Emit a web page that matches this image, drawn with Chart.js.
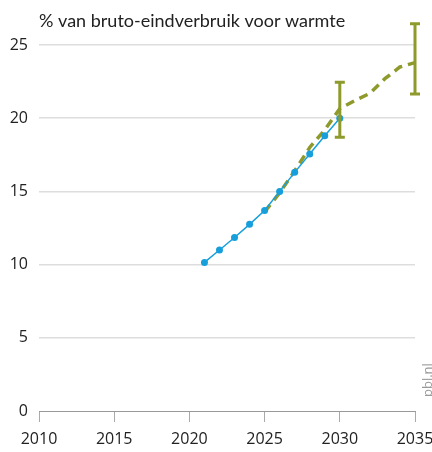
<!DOCTYPE html>
<html>
<head>
<meta charset="utf-8">
<script src="https://cdn.jsdelivr.net/npm/chart.js@4"></script>
<style>
	html, body { margin: 0; padding: 0; background: #fff; }
	#wrap { width: 432px; height: 452px; }
</style>
</head>
<body>
<div id="wrap"><canvas id="grWarmte"></canvas></div>
<script>
// gerealiseerd / raming
var jarenHist = [2021, 2022, 2023, 2024, 2025, 2026, 2027, 2028, 2029, 2030];
var waardenHist = [10.15, 11.0, 11.85, 12.75, 13.7, 15.0, 16.3, 17.55, 18.8, 20.0];

// projectie (gestippeld)
var jarenProj = [2025, 2026, 2027, 2028, 2029, 2030, 2031, 2032, 2033, 2034, 2035];
var waardenProj = [13.6, 14.9, 16.4, 18.0, 19.2, 20.65, 21.2, 21.7, 22.7, 23.5, 23.8];

// bandbreedte
var jarenBand = [2030, 2035];
var bandLaag = [18.7, 21.65];
var bandHoog = [22.45, 26.45];

var xTicks = [2010, 2015, 2020, 2025, 2030, 2035];
var yTicks = [0, 5, 10, 15, 20, 25];

var titel = '% van bruto-eindverbruik voor warmte';
var bron = 'pbl.nl';

var blauw = '#179fdc';
var groen = '#8e9a2b';
var fontNaam = "'Open Sans', 'Noto Sans', sans-serif";
var titelFont = "Lato, 'Open Sans', sans-serif";

function punten(xs, ys) {
	var arr = [];
	for (var i = 0; i < xs.length; i++) {
		arr.push({x: xs[i], y: ys[i]});
	}
	return arr;
}

var extraPlugin = {
	id: 'extra',
	afterDatasetsDraw: function(chart) {
		var ctx = chart.ctx;
		var sx = chart.scales.x, sy = chart.scales.y;
		ctx.save();
		ctx.strokeStyle = groen;
		ctx.lineWidth = 3;
		for (var i = 0; i < jarenBand.length; i++) {
			var px = sx.getPixelForValue(jarenBand[i]);
			var top = sy.getPixelForValue(bandHoog[i]);
			var bot = sy.getPixelForValue(bandLaag[i]);
			ctx.beginPath();
			ctx.moveTo(px, top); ctx.lineTo(px, bot);
			ctx.moveTo(px - 5, top); ctx.lineTo(px + 5, top);
			ctx.moveTo(px - 5, bot); ctx.lineTo(px + 5, bot);
			ctx.stroke();
		}
		ctx.restore();
	},
	afterDraw: function(chart) {
		var ctx = chart.ctx;
		ctx.save();
		ctx.fillStyle = '#222';
		ctx.font = '18px ' + titelFont;
		ctx.textAlign = 'left';
		ctx.textBaseline = 'alphabetic';
		ctx.fillText(titel, 39, 27);

		ctx.fillStyle = '#999';
		ctx.font = '13px ' + fontNaam;
		ctx.translate(432, 397);
		ctx.rotate(-Math.PI / 2);
		ctx.textAlign = 'left';
		ctx.fillText(bron, 0, 0);
		ctx.restore();
	}
};

var config = {
	type: 'line',
	data: {
		datasets: [{
			label: 'Gerealiseerd',
			data: punten(jarenHist, waardenHist),
			borderColor: blauw,
			backgroundColor: blauw,
			pointBackgroundColor: blauw,
			pointBorderWidth: 0,
			pointRadius: 3.5,
			borderWidth: 1.5,
			tension: 0,
			order: 0
		}, {
			label: 'Projectie',
			data: punten(jarenProj, waardenProj),
			borderColor: groen,
			borderWidth: 3.5,
			borderDash: [9, 6],
			pointRadius: 0,
			tension: 0,
			order: 1
		}]
	},
	options: {
		responsive: true,
		maintainAspectRatio: false,
		animation: false,
		clip: false,
		layout: {
			padding: {top: 45, right: 17, left: 0, bottom: 0}
		},
		plugins: {
			legend: {display: false},
			title: {display: false},
			tooltip: {enabled: false}
		},
		scales: {
			x: {
				type: 'linear',
				min: 2010,
				max: 2035,
				afterBuildTicks: function(scale) {
					scale.ticks = xTicks.map(function(v) { return {value: v}; });
				},
				afterFit: function(scale) {
					scale.height = 41;
					scale.paddingRight = 0;
					scale.paddingLeft = 0;
				},
				grid: {
					drawOnChartArea: false,
					drawTicks: true,
					tickLength: 11,
					color: '#aaa',
					lineWidth: 1
				},
				border: {display: true, color: '#999', width: 1},
				ticks: {
					padding: 8,
					maxRotation: 0,
					color: '#222',
					font: {family: fontNaam, size: 16},
					callback: function(v) { return String(v); }
				}
			},
			y: {
				min: 0,
				max: 25,
				afterBuildTicks: function(scale) {
					scale.ticks = yTicks.map(function(v) { return {value: v}; });
				},
				afterFit: function(scale) {
					scale.width = 39;
					scale.paddingTop = 0;
				},
				grid: {
					drawTicks: false,
					color: function(c) { return c.tick.value === 0 ? 'rgba(0,0,0,0)' : '#ddd'; },
					lineWidth: 1.5
				},
				border: {display: false},
				ticks: {
					padding: 11,
					color: '#222',
					font: {family: fontNaam, size: 16}
				}
			}
		}
	},
	plugins: [extraPlugin]
};

var ctxW = document.getElementById('grWarmte').getContext('2d');
window.myLine = new Chart(ctxW, config);
</script>
</body>
</html>
